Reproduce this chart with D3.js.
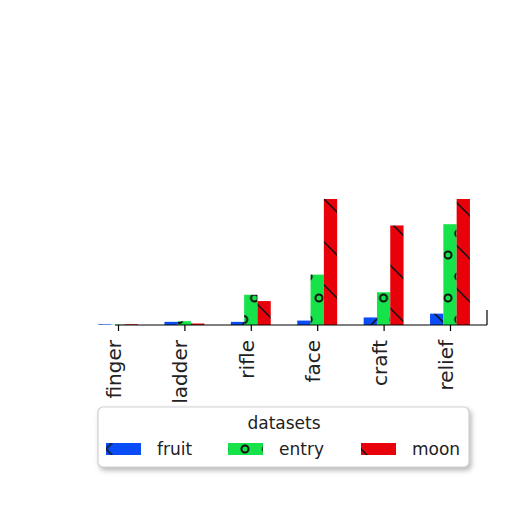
<!DOCTYPE html>
<html><head><meta charset="utf-8">
<script src="https://cdn.jsdelivr.net/npm/d3@7"></script>
<style>body{margin:0;background:#fff}svg{display:block}</style>
</head><body>
<script>
const categories = ["finger","ladder","rifle","face","craft","relief"];
const seriesNames = ["fruit","entry","moon"];
const fruit = [0.5, 2.5, 2.5, 3.5, 6, 9];
const entry = [0.3, 3, 24, 40, 26, 80];
const moon  = [0.6, 1.2, 19, 100, 79, 100];
const colors = ["#0a4cf5", "#16e34a", "#e8000b"];
const legendTitle = "datasets";

const W = 512, H = 512;
const svg = d3.select("body").append("svg").attr("width", W).attr("height", H);
const defs = svg.append("defs");

function xHatch(id, ox, oy) {
  const p = defs.append("pattern").attr("id", id).attr("patternUnits", "userSpaceOnUse")
    .attr("width", 43).attr("height", 43).attr("x", ox).attr("y", oy);
  p.append("rect").attr("width", 43).attr("height", 43).attr("fill", colors[0]);
  p.append("path").attr("d", "M0,0L43,43M0,43L43,0M-5,5L5,-5M38,48L48,38")
    .attr("stroke", "#111").attr("stroke-width", 1.5);
}
function oHatch(id, ox, oy) {
  const p = defs.append("pattern").attr("id", id).attr("patternUnits", "userSpaceOnUse")
    .attr("width", 21.5).attr("height", 43).attr("x", ox).attr("y", oy);
  p.append("rect").attr("width", 21.5).attr("height", 43).attr("fill", colors[1]);
  [[0,0],[21.5,0],[0,43],[21.5,43],[10.75,21.5]].forEach(([cx,cy]) =>
    p.append("circle").attr("cx", cx).attr("cy", cy).attr("r", 3.5)
      .attr("fill", "none").attr("stroke", "#111").attr("stroke-width", 2));
}
function bHatch(id, ox, oy) {
  const p = defs.append("pattern").attr("id", id).attr("patternUnits", "userSpaceOnUse")
    .attr("width", 43).attr("height", 43).attr("x", ox).attr("y", oy);
  p.append("rect").attr("width", 43).attr("height", 43).attr("fill", colors[2]);
  p.append("path").attr("d", "M0,0L43,43M-5,38L5,48M38,-5L48,5")
    .attr("stroke", "#111").attr("stroke-width", 1.5);
}
xHatch("h0", 0, 8); oHatch("h1", 448, 298); bHatch("h2", 414, 203);
xHatch("lh0", 106 - 21.5, 449 - 21.5); oHatch("lh1", 245, 449); bHatch("lh2", 353, 441);

const shadow = defs.append("filter").attr("id", "shadow")
  .attr("x", "-10%").attr("y", "-20%").attr("width", "130%").attr("height", "160%");
shadow.append("feDropShadow").attr("dx", 2).attr("dy", 3).attr("stdDeviation", 2.5)
  .attr("flood-color", "#888").attr("flood-opacity", 0.6);

const x = d3.scalePoint().domain(categories).range([118, 450]);
const y = d3.scaleLinear().domain([0, 100]).range([325, 199]);
const bw = 13.3;
const data = [fruit, entry, moon];

const g = svg.append("g");
data.forEach((vals, si) => {
  g.selectAll(".b" + si).data(categories).enter().append("rect")
    .attr("x", (d) => x(d) + (si - 1) * bw - bw / 2)
    .attr("y", (d, i) => y(vals[i]))
    .attr("width", bw)
    .attr("height", (d, i) => y(0) - y(vals[i]))
    .attr("fill", "url(#h" + si + ")");
});

const ax = svg.append("g").attr("transform", `translate(0,${y(0)})`)
  .call(d3.axisBottom(x).tickSize(6).tickSizeOuter(0));
ax.select(".domain").remove();
ax.append("line").attr("x1", 115).attr("x2", 487).attr("y1", 0).attr("y2", 0)
  .attr("stroke", "#000").attr("stroke-width", 1.2);
ax.append("line").attr("x1", 487).attr("x2", 487).attr("y1", 0).attr("y2", -15)
  .attr("stroke", "#000").attr("stroke-width", 1.2);
ax.selectAll(".tick line").attr("stroke", "#000").attr("stroke-width", 1.2);
ax.selectAll(".tick text")
  .attr("transform", "rotate(-90)")
  .attr("text-anchor", "end")
  .attr("x", -15).attr("y", 0).attr("dy", "0.12em")
  .attr("font-family", "DejaVu Sans").attr("font-size", 20).attr("fill", "#222");

const lg = svg.append("g");
lg.append("rect").attr("x", 98).attr("y", 407).attr("width", 371).attr("height", 60)
  .attr("rx", 5).attr("fill", "#fff").attr("stroke", "#d0d0d0").attr("stroke-width", 1.2)
  .attr("filter", "url(#shadow)");
lg.append("text").attr("x", 284).attr("y", 429).attr("text-anchor", "middle")
  .attr("font-family", "DejaVu Sans").attr("font-size", 17).attr("fill", "#222").text(legendTitle);
const lx = [106, 228, 361];
seriesNames.forEach((n, i) => {
  lg.append("rect").attr("x", lx[i]).attr("y", 443).attr("width", 35).attr("height", 12)
    .attr("fill", "url(#lh" + i + ")");
  lg.append("text").attr("x", lx[i] + 51).attr("y", 455)
    .attr("font-family", "DejaVu Sans").attr("font-size", 17).attr("fill", "#222").text(n);
});
</script>
</body></html>
